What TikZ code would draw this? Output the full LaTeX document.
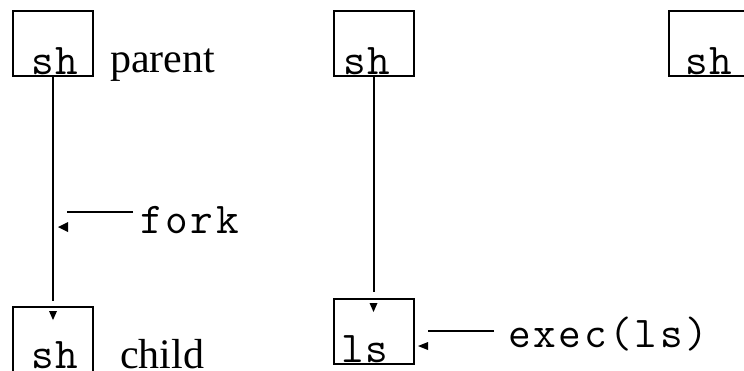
\documentclass[tikz,border=0pt]{standalone}
\usepackage{fontspec}
\setmainfont{Liberation Serif}
\newfontfamily\boxmono{Latin Modern Mono}[LetterSpace=4]
\newfontfamily\lblmono{Latin Modern Mono}[LetterSpace=6]
\begin{document}
\begin{tikzpicture}[x=1pt,y=-1pt,
  box/.style={draw, line width=2pt, inner sep=0pt, minimum width=80pt, minimum height=65pt},
  mono/.style={font=\fontsize{44}{44}\selectfont\boxmono, inner sep=0pt, anchor=base west},
  lbl/.style={font=\fontsize{44}{44}\selectfont\lblmono, inner sep=0pt, anchor=base west},
  serif/.style={font=\fontsize{42}{42}\selectfont, inner sep=0pt, anchor=base west},
  conn/.style={line width=2pt},
  tipfill/.style={fill=black}]
\useasboundingbox (0,0) rectangle (744,370);
% boxes
\node[box] (b1) at (53,43.5) {};
\node[box] (b2) at (53,339.5) {};
\node[box] (b3) at (373.5,43.5) {};
\node[box] (b4) at (373.5,331.5) {};
\node[box] (b5) at (709,43.5) {};
% box texts
\node[mono] (t1) at (31,74) {sh};
\node[mono] (t2) at (31,368) {sh};
\node[mono] (t3) at (343,74) {sh};
\node[mono] (t4) at (341,362) {ls};
\node[mono] (t5) at (685,74) {sh};
% labels
\node[serif] (parent) at (110,72) {parent};
\node[serif] (child) at (120,368) {child};
\node[lbl] (fork) at (140,233) {fork};
\node[lbl] (exec) at (508,347) {exec(ls)};
% vertical connectors
\draw[conn] (b1.south) -- ([yshift=5pt]b2.north);
\fill[tipfill] ([xshift=-4pt,yshift=-5pt]b2.north) -- ++(8,0) -- ++(-4,9) -- cycle;
\draw[conn] (b3.south) -- ([yshift=6pt]b4.north);
\fill[tipfill] ([xshift=-4pt,yshift=-5pt]b4.north) -- ++(8,0) -- ++(-4,9) -- cycle;
% fork arrow
\coordinate (forkA) at (133,212);
\coordinate (forkB) at (67,212);
\draw[conn] (forkA) -- (forkB);
\coordinate (forkTip) at (58,227);
\fill[tipfill] (forkTip) -- ++(10,-5) -- ++(0,10) -- cycle;
% exec arrow
\coordinate (execA) at (494,331);
\coordinate (execB) at (428,331);
\draw[conn] (execA) -- (execB);
\coordinate (execTip) at (418,346);
\fill[tipfill] (execTip) -- ++(10,-4) -- ++(0,8) -- cycle;
\end{tikzpicture}
\end{document}
